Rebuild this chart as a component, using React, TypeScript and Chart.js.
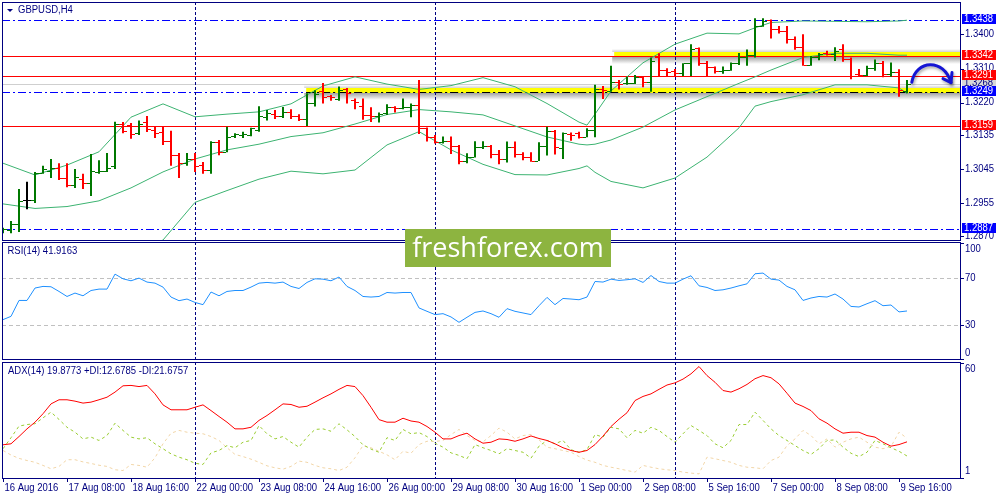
import React, { useEffect, useRef } from "react";
import { Chart, registerables } from "chart.js";

Chart.register(...registerables);

// ---------------- data ----------------
const TIME_LABELS = [
  "16 Aug 2016", "17 Aug 08:00", "18 Aug 16:00", "22 Aug 00:00", "23 Aug 08:00",
  "24 Aug 16:00", "26 Aug 00:00", "29 Aug 08:00", "30 Aug 16:00", "1 Sep 00:00",
  "2 Sep 08:00", "5 Sep 16:00", "7 Sep 00:00", "8 Sep 08:00", "9 Sep 16:00",
];
const TIME_LABEL_BARS = [0, 8, 16, 24, 32, 40, 48, 56, 64, 72, 80, 88, 96, 104, 112];
const WEEK_SEPARATOR_BARS = [24, 54, 84];

const OPEN = [
  1.2883, 1.2885, 1.2901, 1.2964, 1.2964, 1.3035, 1.3040, 1.3048, 1.3022, 1.3004,
  1.3019, 1.3009, 1.3038, 1.3040, 1.3054, 1.3165, 1.3161, 1.3140, 1.3169, 1.3148,
  1.3143, 1.3119, 1.3082, 1.3061, 1.3072, 1.3056, 1.3043, 1.3117, 1.3090, 1.3132,
  1.3136, 1.3136, 1.3148, 1.3183, 1.3190, 1.3185, 1.3196, 1.3185, 1.3177, 1.3220,
  1.3251, 1.3238, 1.3230, 1.3255, 1.3227, 1.3211, 1.3188, 1.3185, 1.3192, 1.3208,
  1.3207, 1.3210, 1.3213, 1.3153, 1.3131, 1.3117, 1.3120, 1.3107, 1.3067, 1.3078,
  1.3103, 1.3107, 1.3085, 1.3071, 1.3104, 1.3085, 1.3078, 1.3068, 1.3107, 1.3146,
  1.3100, 1.3138, 1.3140, 1.3131, 1.3148, 1.3255, 1.3252, 1.3275, 1.3271, 1.3273,
  1.3287, 1.3275, 1.3341, 1.3306, 1.3304, 1.3299, 1.3324, 1.3363, 1.3324, 1.3313,
  1.3304, 1.3306, 1.3324, 1.3339, 1.3345, 1.3422, 1.3437, 1.3413, 1.3409, 1.3387,
  1.3367, 1.3318, 1.3339, 1.3351, 1.3348, 1.3360, 1.3334, 1.3296, 1.3293, 1.3311,
  1.3325, 1.3296, 1.3300, 1.3252,
];
const HIGH = [
  1.2891, 1.2909, 1.2993, 1.3012, 1.3038, 1.3054, 1.3072, 1.3061, 1.3061, 1.3046,
  1.3033, 1.3085, 1.3069, 1.3088, 1.3170, 1.3169, 1.3167, 1.3173, 1.3185, 1.3157,
  1.3159, 1.3146, 1.3088, 1.3088, 1.3088, 1.3064, 1.3119, 1.3122, 1.3157, 1.3140,
  1.3144, 1.3154, 1.3211, 1.3201, 1.3201, 1.3209, 1.3203, 1.3190, 1.3245, 1.3253,
  1.3272, 1.3240, 1.3263, 1.3259, 1.3231, 1.3231, 1.3208, 1.3194, 1.3216, 1.3211,
  1.3231, 1.3218, 1.3280, 1.3155, 1.3135, 1.3131, 1.3131, 1.3109, 1.3087, 1.3119,
  1.3119, 1.3109, 1.3096, 1.3118, 1.3118, 1.3090, 1.3090, 1.3116, 1.3157, 1.3148,
  1.3142, 1.3142, 1.3144, 1.3153, 1.3267, 1.3264, 1.3317, 1.3280, 1.3288, 1.3293,
  1.3290, 1.3339, 1.3350, 1.3311, 1.3309, 1.3324, 1.3374, 1.3365, 1.3330, 1.3315,
  1.3315, 1.3326, 1.3351, 1.3360, 1.3442, 1.3442, 1.3439, 1.3422, 1.3422, 1.3394,
  1.3400, 1.3343, 1.3351, 1.3357, 1.3366, 1.3374, 1.3339, 1.3309, 1.3317, 1.3334,
  1.3330, 1.3326, 1.3308, 1.3280,
];
const LOW = [
  1.2877, 1.2877, 1.2880, 1.2940, 1.2956, 1.3033, 1.3022, 1.3017, 1.2998, 1.2996,
  1.2993, 1.2975, 1.3033, 1.3038, 1.3046, 1.3140, 1.3125, 1.3135, 1.3143, 1.3127,
  1.3109, 1.3054, 1.3022, 1.3054, 1.3038, 1.3033, 1.3033, 1.3082, 1.3090, 1.3127,
  1.3127, 1.3132, 1.3144, 1.3173, 1.3177, 1.3180, 1.3177, 1.3172, 1.3159, 1.3210,
  1.3218, 1.3225, 1.3225, 1.3218, 1.3203, 1.3175, 1.3169, 1.3168, 1.3188, 1.3194,
  1.3203, 1.3182, 1.3138, 1.3118, 1.3113, 1.3113, 1.3085, 1.3058, 1.3061, 1.3076,
  1.3098, 1.3074, 1.3058, 1.3063, 1.3076, 1.3069, 1.3065, 1.3067, 1.3081, 1.3084,
  1.3072, 1.3120, 1.3126, 1.3129, 1.3129, 1.3230, 1.3249, 1.3255, 1.3267, 1.3269,
  1.3261, 1.3249, 1.3290, 1.3290, 1.3290, 1.3290, 1.3290, 1.3317, 1.3288, 1.3297,
  1.3296, 1.3304, 1.3319, 1.3317, 1.3339, 1.3420, 1.3389, 1.3402, 1.3376, 1.3359,
  1.3317, 1.3317, 1.3332, 1.3344, 1.3330, 1.3328, 1.3282, 1.3288, 1.3290, 1.3304,
  1.3287, 1.3288, 1.3236, 1.3245,
];
const CLOSE = [
  1.2887, 1.2901, 1.2962, 1.2964, 1.3035, 1.3046, 1.3048, 1.3022, 1.3004, 1.3025,
  1.3009, 1.3040, 1.3040, 1.3048, 1.3165, 1.3146, 1.3138, 1.3164, 1.3151, 1.3140,
  1.3119, 1.3082, 1.3061, 1.3072, 1.3054, 1.3043, 1.3117, 1.3090, 1.3130, 1.3138,
  1.3139, 1.3153, 1.3185, 1.3192, 1.3186, 1.3196, 1.3185, 1.3177, 1.3220, 1.3242,
  1.3234, 1.3234, 1.3253, 1.3245, 1.3223, 1.3188, 1.3185, 1.3190, 1.3208, 1.3206,
  1.3210, 1.3213, 1.3153, 1.3131, 1.3118, 1.3120, 1.3107, 1.3066, 1.3078, 1.3103,
  1.3107, 1.3085, 1.3071, 1.3104, 1.3085, 1.3078, 1.3068, 1.3107, 1.3146, 1.3103,
  1.3141, 1.3135, 1.3131, 1.3148, 1.3255, 1.3253, 1.3275, 1.3269, 1.3273, 1.3287,
  1.3275, 1.3329, 1.3306, 1.3301, 1.3299, 1.3324, 1.3360, 1.3324, 1.3313, 1.3304,
  1.3306, 1.3324, 1.3339, 1.3345, 1.3422, 1.3436, 1.3413, 1.3409, 1.3387, 1.3367,
  1.3318, 1.3339, 1.3347, 1.3348, 1.3356, 1.3334, 1.3290, 1.3293, 1.3311, 1.3324,
  1.3296, 1.3300, 1.3253, 1.3268,
];

// Bollinger Bands (20) read at these bars
const BB_BARS = [0, 4, 8, 12, 16, 20, 24, 28, 32, 36, 40, 44, 48, 52, 56, 60, 64, 68, 72, 73, 74, 76, 80, 84, 88, 92, 94, 96, 100, 104, 108, 112, 113];
const BB_UPPER = [
  1.3061, 1.3030, 1.3056, 1.3091, 1.3182, 1.3217, 1.3183, 1.3190, 1.3196, 1.3217, 1.3264,
  1.3288, 1.3269, 1.3255, 1.3265, 1.3286, 1.3262, 1.3218, 1.3169, 1.3161, 1.3190, 1.3251,
  1.3325, 1.3374, 1.3403, 1.3401, 1.3417, 1.3431, 1.3435, 1.3434, 1.3433, 1.3435, 1.3437,
];
const BB_MIDDLE = [
  1.2954, 1.2942, 1.2947, 1.2962, 1.2996, 1.3038, 1.3072, 1.3096, 1.3111, 1.3131, 1.3141,
  1.3164, 1.3189, 1.3202, 1.3196, 1.3188, 1.3159, 1.3130, 1.3111, 1.3109, 1.3111, 1.3122,
  1.3156, 1.3201, 1.3236, 1.3271, 1.3288, 1.3306, 1.3339, 1.3350, 1.3350, 1.3345, 1.3345,
];
const BB_LOWER = [
  1.2847, 1.2855, 1.2837, 1.2832, 1.2810, 1.2859, 1.2958, 1.2989, 1.3019, 1.3040, 1.3033,
  1.3043, 1.3109, 1.3144, 1.3096, 1.3058, 1.3031, 1.3030, 1.3047, 1.3054, 1.3037, 1.3013,
  1.2996, 1.3022, 1.3077, 1.3154, 1.3211, 1.3223, 1.3241, 1.3267, 1.3267, 1.3259, 1.3245,
];

const RSI = [
  34.5, 37.3, 50.9, 50.9, 61.5, 62.9, 62.6, 58.6, 54.3, 57.2,
  54.9, 59.4, 60.6, 60.6, 73.4, 69.4, 67.7, 70.0, 66.6, 65.7,
  62.3, 53.8, 50.7, 52.1, 49.2, 47.3, 58.1, 54.9, 58.6, 59.4,
  59.4, 62.3, 65.7, 66.3, 65.7, 66.6, 62.9, 61.1, 66.3, 69.4,
  69.1, 67.7, 70.9, 62.9, 59.4, 54.3, 53.8, 54.3, 57.7, 57.2,
  57.7, 57.7, 44.5, 41.6, 38.8, 39.6, 36.8, 32.2, 36.5, 40.7,
  41.9, 39.6, 36.5, 43.9, 41.6, 40.2, 38.8, 46.4, 53.5, 47.3,
  52.6, 52.1, 51.5, 53.8, 67.1, 66.6, 69.1, 68.0, 68.6, 69.4,
  66.3, 72.2, 67.1, 65.7, 65.7, 69.1, 72.0, 63.4, 62.0, 59.4,
  60.0, 61.5, 63.4, 65.1, 73.7, 74.3, 69.1, 68.3, 62.9, 60.0,
  50.9, 53.0, 54.3, 53.8, 56.4, 52.1, 45.8, 45.3, 48.1, 50.7,
  46.4, 47.0, 41.1, 41.9,
];
const ADX = [
  18.4, 18.9, 22.6, 26.5, 29.9, 34.2, 39.2, 41.3, 41.3, 40.6,
  39.6, 40.1, 41.3, 42.6, 45.2, 48.4, 48.6, 48.0, 48.6, 44.3,
  38.7, 36.2, 36.2, 36.2, 37.5, 38.7, 35.8, 32.8, 29.9, 26.5,
  26.5, 27.3, 30.8, 33.3, 36.2, 39.2, 38.9, 37.5, 38.0, 40.1,
  42.3, 44.3, 46.6, 48.6, 48.0, 43.4, 37.5, 31.2, 29.9, 29.9,
  31.9, 30.5, 29.9, 27.7, 24.8, 21.4, 21.4, 23.1, 24.3, 21.4,
  19.2, 19.7, 21.4, 21.1, 20.2, 21.4, 22.9, 21.6, 20.6, 18.9,
  16.9, 15.5, 14.6, 15.5, 18.5, 22.8, 27.7, 31.4, 34.7, 40.9,
  43.0, 44.3, 46.6, 48.8, 49.9, 51.8, 54.5, 58.2, 53.6, 50.2,
  46.0, 45.2, 46.9, 49.1, 52.0, 53.6, 52.5, 49.4, 44.6, 39.6,
  37.9, 35.8, 31.6, 29.4, 26.5, 24.3, 24.8, 24.8, 23.1, 22.3,
  19.7, 17.7, 18.5, 19.9,
];
const PLUS_DI = [
  16.4, 22.0, 27.9, 28.7, 29.1, 32.1, 35.0, 31.3, 27.3, 24.8,
  21.4, 22.3, 20.6, 23.1, 29.4, 25.7, 22.3, 21.4, 22.0, 18.9,
  16.4, 13.8, 12.1, 10.8, 9.0, 8.4, 14.3, 15.5, 18.0, 16.9,
  19.7, 20.6, 28.2, 24.0, 21.4, 22.6, 19.7, 17.2, 22.3, 26.2,
  26.5, 25.3, 29.1, 26.0, 22.6, 18.4, 16.2, 14.6, 22.0, 20.6,
  26.2, 24.0, 24.6, 22.6, 19.2, 17.2, 14.3, 13.0, 11.3, 18.5,
  16.9, 15.5, 13.8, 16.4, 15.5, 14.6, 11.6, 17.7, 20.6, 18.9,
  20.6, 15.9, 14.6, 15.9, 23.6, 22.3, 27.3, 26.5, 22.0, 25.7,
  24.3, 27.3, 25.7, 22.6, 19.7, 24.0, 28.2, 25.7, 23.1, 18.9,
  16.9, 20.6, 28.7, 28.7, 35.0, 30.8, 26.5, 23.1, 20.6, 18.0,
  15.5, 13.5, 16.4, 20.6, 20.9, 17.2, 14.1, 12.4, 14.6, 20.6,
  18.9, 16.9, 15.1, 12.7,
];
const MINUS_DI = [
  15.5, 13.2, 11.5, 10.4, 9.5, 7.9, 6.2, 7.4, 10.8, 10.8,
  9.7, 8.9, 8.0, 7.4, 5.7, 5.3, 8.4, 7.9, 7.0, 11.8,
  18.9, 24.3, 25.7, 24.8, 24.3, 24.0, 22.6, 20.6, 16.9, 13.5,
  12.4, 11.1, 9.5, 7.7, 6.7, 6.0, 7.4, 10.1, 9.5, 7.9,
  6.7, 6.2, 5.3, 7.0, 11.8, 18.0, 16.9, 15.1, 13.3, 10.8,
  15.1, 14.1, 18.5, 20.2, 20.1, 20.6, 23.6, 26.2, 23.1, 20.6,
  19.9, 23.1, 26.9, 24.8, 21.4, 23.1, 23.6, 20.9, 17.2, 16.4,
  15.5, 14.6, 12.4, 10.6, 9.5, 7.9, 7.0, 6.2, 5.3, 4.5,
  7.9, 7.0, 6.2, 5.7, 5.3, 4.5, 4.0, 3.6, 12.1, 11.3,
  10.4, 9.5, 7.9, 7.0, 6.7, 6.2, 10.4, 12.1, 18.0, 21.4,
  25.7, 23.1, 18.9, 21.4, 17.2, 19.7, 21.4, 22.3, 19.7, 17.2,
  16.4, 17.5, 24.8, 21.7,
];

const PRICE_AXIS_LABELS = [1.34, 1.331, 1.322, 1.3135, 1.3045, 1.2955, 1.287];
const RED_LEVELS = [1.3342, 1.3291, 1.3159];
const BLUE_LEVELS = [1.3438, 1.3249, 1.2887];
const BID_PRICE = 1.3268;
const YELLOW_ZONE_LEVELS = [1.3249, 1.3342];
const YELLOW_ZONE_START_BARS = [37.9, 76.4];
const ARROW_BARS = [113.6, 114.1, 117.6, 118.5];
const ARROW_PRICES = [1.3274, 1.3333, 1.3338, 1.3273];
const RSI_LEVELS = [70, 30];
const RSI_AXIS_LABELS = [100, 70, 30, 0];
const ADX_AXIS_LABELS = [60, 1];

const TITLE = "GBPUSD,H4";
const RSI_TITLE = "RSI(14) 41.9163";
const ADX_TITLE = "ADX(14) 19.8773 +DI:12.6785 -DI:21.6757";
const WATERMARK = "freshforex.com";

// ---------------- styling ----------------
const NAVY = "#000080";
const FONT = '10px "Liberation Sans", Arial, sans-serif';
const X_MIN = -0.125;
const X_MAX = 119.625;
const PRICE_MIN = 1.2859;
const PRICE_MAX = 1.34849;

function text(ctx: any, s: string, x: number, y: number, color: string) {
  ctx.save();
  ctx.font = FONT;
  ctx.fillStyle = color;
  ctx.textAlign = "left";
  ctx.textBaseline = "middle";
  ctx.translate(x, y);
  ctx.scale(0.95, 1);
  ctx.fillText(s, 0, 0);
  ctx.restore();
}

function frame(ctx: any, left: number, right: number, top: number, bottom: number) {
  ctx.save();
  ctx.strokeStyle = NAVY;
  ctx.lineWidth = 1;
  ctx.setLineDash([]);
  ctx.strokeRect(left + 0.5, top + 0.5, right - left, bottom - top);
  ctx.restore();
}

function separators(chart: any, top: number, bottom: number) {
  const { ctx, scales } = chart;
  ctx.save();
  ctx.strokeStyle = NAVY;
  ctx.lineWidth = 1;
  ctx.setLineDash([3, 2]);
  for (const b of WEEK_SEPARATOR_BARS) {
    const px = Math.round(scales.x.getPixelForValue(b)) + 0.5;
    ctx.beginPath();
    ctx.moveTo(px, top);
    ctx.lineTo(px, bottom);
    ctx.stroke();
  }
  ctx.restore();
}

function hLine(ctx: any, yp: number, x0: number, x1: number, color: string, dash: number[]) {
  ctx.save();
  ctx.strokeStyle = color;
  ctx.lineWidth = 1;
  ctx.setLineDash(dash);
  const yy = Math.round(yp) + 0.5;
  ctx.beginPath();
  ctx.moveTo(x0, yy);
  ctx.lineTo(x1, yy);
  ctx.stroke();
  ctx.restore();
}

function axisTick(ctx: any, right: number, yp: number) {
  ctx.fillStyle = NAVY;
  ctx.fillRect(right + 1, Math.round(yp), 3, 1);
}

function lineDs(xs: number[], ys: number[], color: string, dash: number[] = [], order = 1): any {
  return {
    type: "line",
    data: xs.map((x, i) => ({ x, y: ys[i] })),
    borderColor: color,
    borderWidth: 1,
    borderDash: dash,
    pointRadius: 0,
    tension: 0,
    fill: false,
    order,
  };
}

const BARS = OPEN.map((_, i) => i);
const DASH_DOT = [8, 3, 2, 3];

function barColor(o: number, c: number) {
  if (c > o) return "#007800";
  if (c < o) return "#FF0000";
  return "#000000";
}

const mainPlugin = {
  id: "mainDecor",
  beforeDatasetsDraw(chart: any) {
    const { ctx, chartArea: a, scales } = chart;
    const { x, y } = scales;
    ctx.save();
    ctx.beginPath();
    ctx.rect(a.left, a.top, a.right - a.left, a.bottom - a.top);
    ctx.clip();
    YELLOW_ZONE_LEVELS.forEach((lv, k) => {
      const yp = Math.round(y.getPixelForValue(lv));
      const x0 = x.getPixelForValue(YELLOW_ZONE_START_BARS[k]);
      const w = a.right - x0;
      const g = ctx.createLinearGradient(0, yp + 1, 0, yp + 8);
      g.addColorStop(0, "rgba(70,70,70,0.5)");
      g.addColorStop(1, "rgba(70,70,70,0)");
      ctx.fillStyle = g;
      ctx.fillRect(x0 - 2, yp + 1, w + 2, 7);
      const g2 = ctx.createLinearGradient(0, yp - 4, 0, yp - 7);
      g2.addColorStop(0, "rgba(70,70,70,0.25)");
      g2.addColorStop(1, "rgba(70,70,70,0)");
      ctx.fillStyle = g2;
      ctx.fillRect(x0 - 2, yp - 7, w + 2, 3);
      ctx.fillStyle = "#FFFF00";
      ctx.fillRect(x0, yp - 4, w, 5);
    });
    hLine(ctx, y.getPixelForValue(BID_PRICE), a.left, a.right, "#CFCFCF", []);
    for (const lv of RED_LEVELS) hLine(ctx, y.getPixelForValue(lv), a.left, a.right, "#FF0000", []);
    for (const lv of BLUE_LEVELS) hLine(ctx, y.getPixelForValue(lv), a.left, a.right, "#0000FF", DASH_DOT);
    const z0 = x.getPixelForValue(YELLOW_ZONE_START_BARS[0]);
    hLine(ctx, y.getPixelForValue(YELLOW_ZONE_LEVELS[0]), z0, a.right, "#000000", DASH_DOT);
    ctx.restore();
    separators(chart, a.top, a.bottom);
  },
  afterDatasetsDraw(chart: any) {
    const { ctx, chartArea: a, scales } = chart;
    const { x, y } = scales;
    ctx.save();
    ctx.beginPath();
    ctx.rect(a.left, a.top, a.right - a.left, a.bottom - a.top);
    ctx.clip();
    BARS.forEach((i) => {
      const xp = Math.round(x.getPixelForValue(i));
      ctx.fillStyle = barColor(OPEN[i], CLOSE[i]);
      ctx.fillRect(xp - 4, Math.round(y.getPixelForValue(OPEN[i])), 3, 1);
      ctx.fillRect(xp + 1, Math.round(y.getPixelForValue(CLOSE[i])), 3, 1);
    });
    ctx.restore();

    ctx.save();
    const P = ARROW_BARS.map((b, k) => [x.getPixelForValue(b), y.getPixelForValue(ARROW_PRICES[k])]);
    ctx.strokeStyle = "#1414D4";
    ctx.lineWidth = 3;
    ctx.lineCap = "round";
    ctx.lineJoin = "round";
    ctx.shadowColor = "rgba(0,0,0,0.35)";
    ctx.shadowBlur = 3;
    ctx.shadowOffsetX = 1;
    ctx.shadowOffsetY = 2;
    ctx.beginPath();
    ctx.moveTo(P[0][0], P[0][1]);
    ctx.bezierCurveTo(P[1][0], P[1][1], P[2][0], P[2][1], P[3][0], P[3][1]);
    ctx.stroke();
    const tx = P[3][0], ty = P[3][1];
    ctx.beginPath();
    ctx.moveTo(tx - 8, ty - 4);
    ctx.lineTo(tx, ty);
    ctx.lineTo(tx + 1, ty - 10);
    ctx.stroke();
    ctx.restore();

    frame(ctx, a.left, a.right, a.top, a.bottom);

    for (const v of PRICE_AXIS_LABELS) {
      const yp = y.getPixelForValue(v);
      axisTick(ctx, a.right, yp);
      text(ctx, v.toFixed(4), a.right + 5, yp, NAVY);
    }
    const box = (v: number, bg: string, fg: string) => {
      const yp = y.getPixelForValue(v);
      ctx.fillStyle = bg;
      ctx.fillRect(a.right + 2, Math.round(yp) - 6, 34, 10);
      text(ctx, v.toFixed(4), a.right + 4, Math.round(yp) - 1, fg);
    };
    box(BID_PRICE, "#D8D8D8", NAVY);
    for (const v of RED_LEVELS) box(v, "#FF0000", "#FFFFFF");
    for (const v of BLUE_LEVELS) box(v, "#0000FF", "#FFFFFF");

    ctx.fillStyle = NAVY;
    ctx.beginPath();
    ctx.moveTo(a.left + 5, a.top + 7);
    ctx.lineTo(a.left + 11, a.top + 7);
    ctx.lineTo(a.left + 8, a.top + 10);
    ctx.closePath();
    ctx.fill();
    text(ctx, TITLE, a.left + 16, a.top + 8.5, NAVY);
  },
};

const rsiPlugin = {
  id: "rsiDecor",
  beforeDatasetsDraw(chart: any) {
    const { ctx, chartArea: a, scales } = chart;
    for (const lv of RSI_LEVELS) hLine(ctx, scales.y.getPixelForValue(lv), a.left, a.right, "#C0C0C0", [4, 3]);
    separators(chart, a.top - 1, a.bottom - 1);
  },
  afterDatasetsDraw(chart: any) {
    const { ctx, chartArea: a, scales } = chart;
    const top = a.top - 1;
    const bottom = a.bottom - 1;
    frame(ctx, a.left, a.right, top, bottom);
    for (const v of RSI_AXIS_LABELS) {
      let yp = scales.y.getPixelForValue(v);
      yp = Math.min(Math.max(yp, top + 1), bottom);
      axisTick(ctx, a.right, yp);
      const ty = v === 100 ? top + 7 : v === 0 ? bottom - 6 : yp;
      text(ctx, String(v), a.right + 5, ty, NAVY);
    }
    text(ctx, RSI_TITLE, a.left + 5.5, top + 9.5, NAVY);
  },
};

const adxPlugin = {
  id: "adxDecor",
  beforeDatasetsDraw(chart: any) {
    const { chartArea: a } = chart;
    separators(chart, a.top - 1, a.bottom - 1);
  },
  afterDatasetsDraw(chart: any) {
    const { ctx, chartArea: a, scales } = chart;
    const top = a.top - 1;
    const bottom = a.bottom - 1;
    frame(ctx, a.left, a.right, top, bottom);
    for (const v of ADX_AXIS_LABELS) {
      let yp = scales.y.getPixelForValue(v);
      yp = Math.min(Math.max(yp, top + 1), bottom);
      axisTick(ctx, a.right, yp);
      const ty = v === ADX_AXIS_LABELS[0] ? top + 7 : bottom - 6.5;
      text(ctx, String(v), a.right + 5, ty, NAVY);
    }
    text(ctx, ADX_TITLE, a.left + 6, top + 9.5, NAVY);
    TIME_LABEL_BARS.forEach((b, k) => {
      const xp = Math.round(scales.x.getPixelForValue(b));
      ctx.fillStyle = NAVY;
      ctx.fillRect(xp, bottom + 1, 1, 3);
      text(ctx, TIME_LABELS[k], xp + 1.5, bottom + 10, NAVY);
    });
  },
};

const baseOptions = (yMin: number, yMax: number, padTop: number, padBottom: number): any => ({
  animation: false,
  responsive: false,
  events: [],
  layout: { padding: { left: 2, right: 40, top: padTop, bottom: padBottom } },
  plugins: { legend: { display: false }, tooltip: { enabled: false } },
  scales: {
    x: { type: "linear", display: false, min: X_MIN, max: X_MAX, offset: false },
    y: { type: "linear", display: false, min: yMin, max: yMax },
  },
});

export default function App() {
  const mainRef = useRef<HTMLCanvasElement>(null);
  const rsiRef = useRef<HTMLCanvasElement>(null);
  const adxRef = useRef<HTMLCanvasElement>(null);

  useEffect(() => {
    const main = new Chart(mainRef.current as any, {
      type: "bar",
      data: {
        datasets: [
          {
            type: "bar",
            data: BARS.map((i) => ({ x: i, y: [LOW[i], HIGH[i]] })),
            backgroundColor: BARS.map((i) => barColor(OPEN[i], CLOSE[i])),
            barThickness: 2,
            borderWidth: 0,
            inflateAmount: 0,
            grouped: false,
            order: 0,
          } as any,
          lineDs(BB_BARS, BB_UPPER, "#3CB371"),
          lineDs(BB_BARS, BB_MIDDLE, "#3CB371"),
          lineDs(BB_BARS, BB_LOWER, "#3CB371"),
        ],
      },
      options: baseOptions(PRICE_MIN, PRICE_MAX, 2, 2),
      plugins: [mainPlugin],
    } as any);

    const rsi = new Chart(rsiRef.current as any, {
      type: "line",
      data: { datasets: [lineDs(BARS, RSI, "#1E90FF")] },
      options: baseOptions(0, 100, 1, 1),
      plugins: [rsiPlugin],
    } as any);

    const adx = new Chart(adxRef.current as any, {
      type: "line",
      data: {
        datasets: [
          lineDs(BARS, ADX, "#FF0000", [], 0),
          lineDs(BARS, PLUS_DI, "#9ACD32", [3, 3], 1),
          lineDs(BARS, MINUS_DI, "#F2D6A8", [3, 3], 2),
        ],
      },
      options: baseOptions(1, 60, 1, 21),
      plugins: [adxPlugin],
    } as any);

    return () => {
      main.destroy();
      rsi.destroy();
      adx.destroy();
    };
  }, []);

  return (
    <div style={{ position: "fixed", left: 0, top: 0, width: 1000, height: 500, background: "#FFFFFF", overflow: "hidden" }}>
      <canvas ref={mainRef} width={1000} height={242} style={{ position: "absolute", left: 0, top: 0 }} />
      <canvas ref={rsiRef} width={1000} height={119} style={{ position: "absolute", left: 0, top: 242 }} />
      <canvas ref={adxRef} width={1000} height={138} style={{ position: "absolute", left: 0, top: 362 }} />
      <div
        style={{
          position: "absolute",
          left: 405,
          top: 229,
          width: 206,
          height: 38,
          background: "#8DB440",
          color: "#FFFFFF",
          font: '27px "Open Sans", sans-serif',
          lineHeight: "36px",
          textAlign: "center",
          whiteSpace: "nowrap",
        }}
      >
        {WATERMARK}
      </div>
    </div>
  );
}
